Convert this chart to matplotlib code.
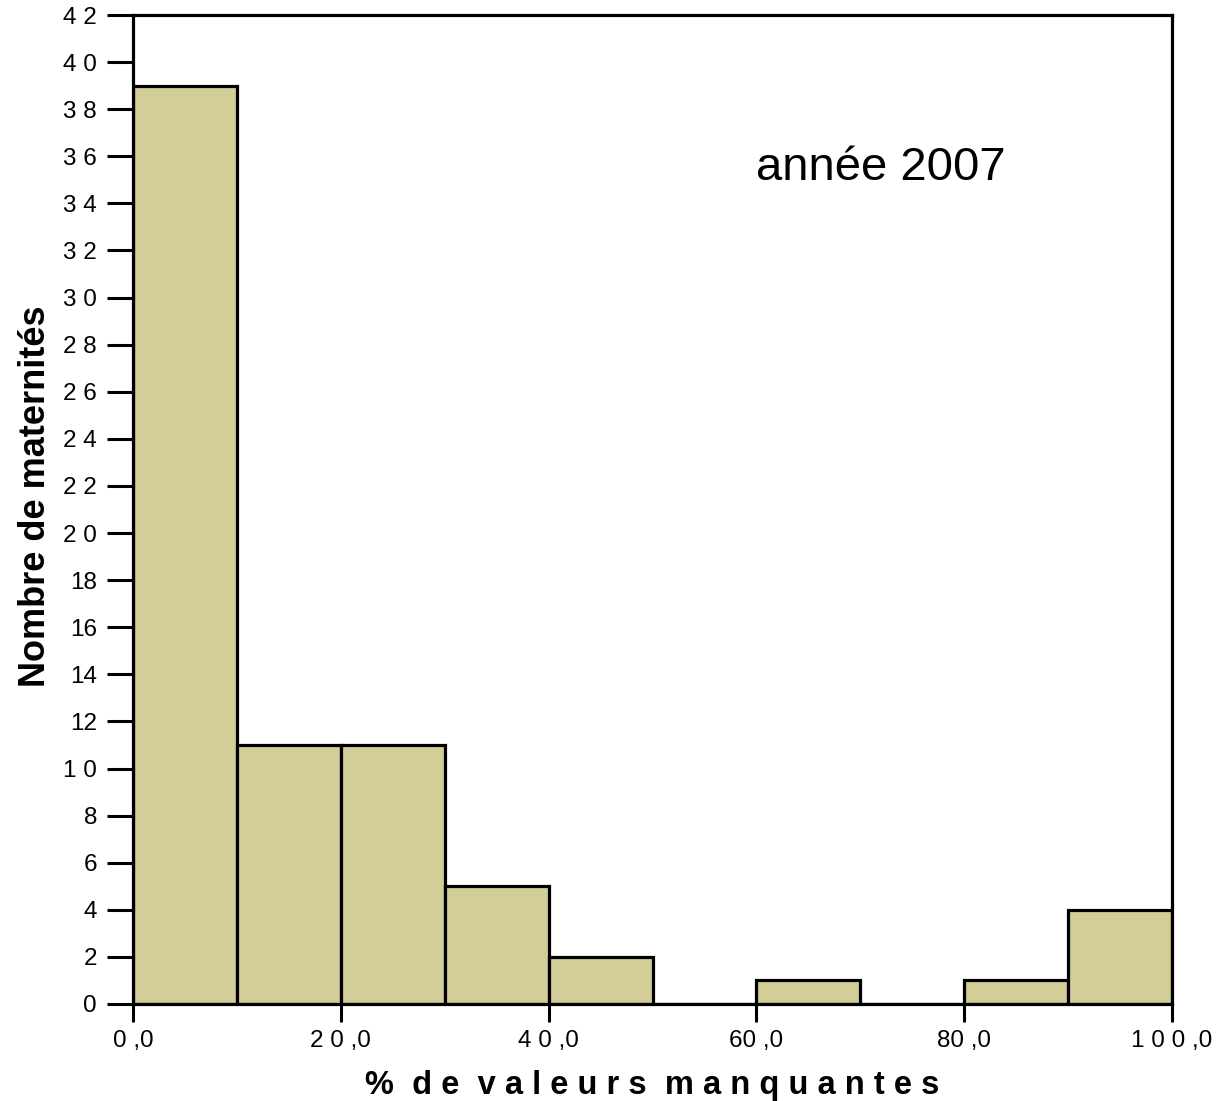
import matplotlib
matplotlib.use("Agg")
import matplotlib.pyplot as plt

bin_edges = [0, 10, 20, 30, 40, 50, 60, 70, 80, 90, 100]
counts = [39, 11, 11, 5, 2, 0, 1, 0, 1, 4]
y_ticks = list(range(0, 43, 2))
y_tick_labels = ["0", "2", "4", "6", "8", "1 0", "12", "14", "16", "18",
                 "2 0", "2 2", "2 4", "2 6", "2 8", "3 0", "3 2", "3 4",
                 "3 6", "3 8", "4 0", "4 2"]
x_ticks = [0, 20, 40, 60, 80, 100]
x_tick_labels = ["0 ,0", "2 0 ,0", "4 0 ,0", "60 ,0", "80 ,0", "1 0 0 ,0"]

plt.rcParams['font.family'] = ['Liberation Sans', 'DejaVu Sans']

fig = plt.figure(figsize=(12.18, 11.01), dpi=100)
ax = fig.add_axes([133/1218, 1 - 1004/1101, (1172-133)/1218, (1004-15)/1101])

lefts = bin_edges[:-1]
widths = [b - a for a, b in zip(bin_edges[:-1], bin_edges[1:])]
ax.bar(lefts, counts, width=widths, align='edge', color='#D3CE98',
       edgecolor='black', linewidth=2.3, zorder=2)

ax.set_xlim(0, 100)
ax.set_ylim(0, 42)
ax.set_yticks(y_ticks)
ax.set_yticklabels(y_tick_labels, fontsize=17.5)
ax.set_xticks(x_ticks)
ax.set_xticklabels(x_tick_labels, fontsize=17.5)
ax.tick_params(axis='y', length=19, width=2.2, pad=7)
ax.tick_params(axis='x', length=13, width=2.2, pad=6)
for s in ax.spines.values():
    s.set_linewidth(2.3)
    s.set_zorder(3)

ax.set_ylabel("Nombre de maternités", fontsize=26, fontweight='bold')
ax.yaxis.set_label_coords(-0.077, 0.513)
ax.set_xlabel("%  d e  v a l e u r s  m a n q u a n t e s", fontsize=23.5,
              fontweight='bold', labelpad=13)

ax.text(0.72, 0.845, "année 2007", transform=ax.transAxes, fontsize=34,
        ha='center', va='center')

fig.savefig("out.png", dpi=100)
